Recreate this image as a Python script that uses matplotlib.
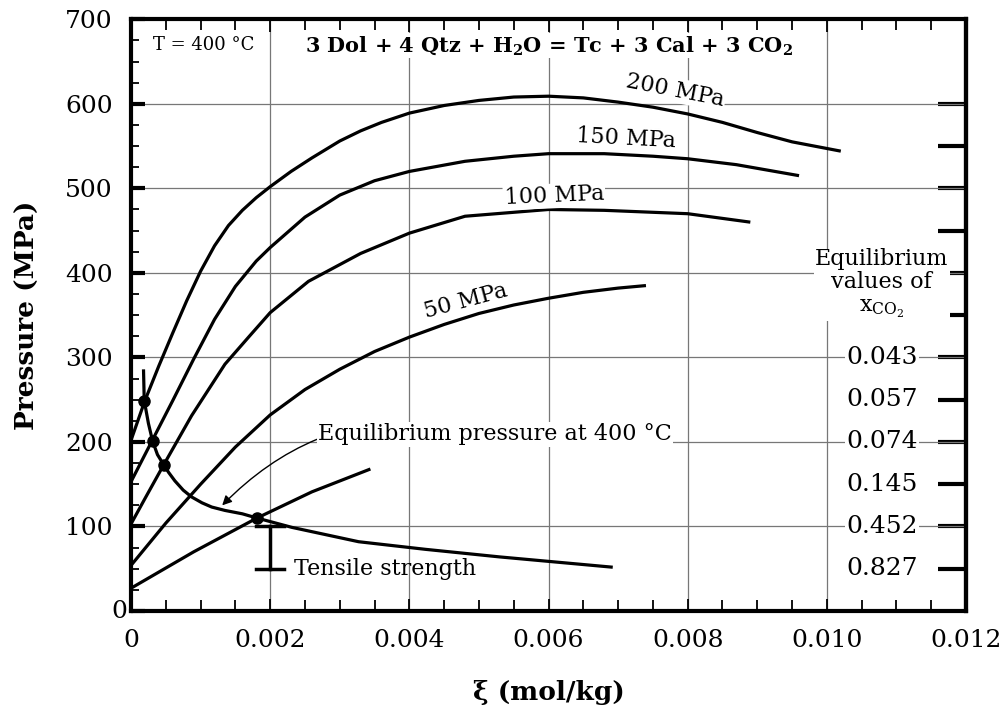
import matplotlib
matplotlib.use("Agg")
import matplotlib.pyplot as plt
from matplotlib.ticker import MultipleLocator, FixedLocator

plt.rcParams['font.family'] = ['DejaVu Serif']
plt.rcParams['mathtext.fontset'] = 'dejavuserif'

# reaction progress (mol/kg) vs pressure (MPa) for each starting pressure
xi_200 = [0, 0.0002, 0.0004, 0.0006, 0.0008, 0.001, 0.0012, 0.0014, 0.0016, 0.0018, 0.002, 0.0023, 0.0026,
          0.003, 0.0033, 0.0036, 0.004, 0.0045, 0.005, 0.0055, 0.006, 0.0065, 0.007, 0.0075, 0.008, 0.0085,
          0.009, 0.0095, 0.0102]
p_200 = [202, 249, 290, 329, 367, 402, 432, 456, 474, 489, 502, 520, 536,
         556, 568, 578, 589, 598, 604, 608, 609, 607, 602, 596, 588, 578,
         566, 555, 544]

xi_150 = [0, 0.0002, 0.0004, 0.0006, 0.0009, 0.0012, 0.0015, 0.0018, 0.002, 0.0025, 0.003, 0.0035, 0.004,
          0.0048, 0.0055, 0.006, 0.0068, 0.0075, 0.008, 0.0087, 0.0096]
p_150 = [153, 185, 217, 249, 298, 345, 384, 414, 430, 466, 492, 509, 520,
         532, 538, 541, 541, 538, 535, 528, 515]

xi_100 = [0, 0.0002, 0.00047, 0.00087, 0.00135, 0.0017, 0.002, 0.00255, 0.0033, 0.004, 0.0048, 0.006,
          0.0068, 0.008, 0.0089]
p_100 = [103, 133, 173, 231, 292, 325, 353, 390, 423, 447, 467, 475,
         474, 470, 460]

xi_50 = [0, 0.0005, 0.001, 0.0015, 0.002, 0.0025, 0.003, 0.0035, 0.004, 0.0045, 0.005, 0.0055, 0.006,
         0.0065, 0.007, 0.0074]
p_50 = [54, 104, 150, 194, 232, 262, 286, 307, 324, 339, 352, 362, 370,
        377, 382, 385]

xi_25 = [0, 0.0009, 0.00181, 0.0026, 0.00344]
p_25 = [27, 70, 110, 141, 168]

# equilibrium pressure at 400 C
xi_eq = [0.00018, 0.00019, 0.00025, 0.00031, 0.00038, 0.00047, 0.00054, 0.00063, 0.00075, 0.00087, 0.00102,
         0.00116, 0.00135, 0.0016, 0.00181, 0.00231, 0.00327, 0.00423, 0.0053, 0.0069]
p_eq = [284, 249, 222, 201, 185, 173, 164, 154, 143, 135, 128,
        123, 119, 115, 110, 99, 82, 73, 64, 52]

xi_dots = [0.00019, 0.00031, 0.00047, 0.00181]
p_dots = [249, 201, 173, 110]

xco2_p = [300, 250, 200, 150, 100, 50]
xco2_vals = ['0.043', '0.057', '0.074', '0.145', '0.452', '0.827']

x_ticks = [0, 0.002, 0.004, 0.006, 0.008, 0.010, 0.012]
x_labels = ['0', '0.002', '0.004', '0.006', '0.008', '0.010', '0.012']
y_ticks = [0, 100, 200, 300, 400, 500, 600, 700]
y_labels = ['', '100', '200', '300', '400', '500', '600', '700']

fig = plt.figure(figsize=(10.04, 7.11), dpi=100)
ax = fig.add_axes([0.1305, 0.1406, 0.8317, 0.8323])

lw = 2.3
for xs, ps in [(xi_200, p_200), (xi_150, p_150), (xi_100, p_100), (xi_50, p_50), (xi_25, p_25)]:
    ax.plot(xs, ps, color='black', lw=lw, solid_capstyle='butt', solid_joinstyle='round', zorder=3)
ax.plot(xi_eq, p_eq, color='black', lw=lw, solid_joinstyle='round', zorder=3)
ax.plot(xi_dots, p_dots, 'o', color='black', ms=8, zorder=4)

ax.set_xlim(0, 0.012)
ax.set_ylim(0, 700)

ax.xaxis.set_major_locator(FixedLocator(x_ticks))
ax.xaxis.set_minor_locator(MultipleLocator(0.0005))
ax.yaxis.set_major_locator(FixedLocator(y_ticks))
ax.yaxis.set_minor_locator(MultipleLocator(25))
ax.set_xticklabels(x_labels)
ax.set_yticklabels(y_labels)

ax.tick_params(axis='both', which='both', direction='in', top=True, right=False,
               labelsize=18, pad=13, color='black')
ax.tick_params(axis='x', which='major', length=9, width=1.3)
ax.tick_params(axis='x', which='minor', length=8, width=1.3)
ax.tick_params(axis='y', which='major', length=10, width=3)
ax.tick_params(axis='y', which='minor', length=6, width=1.3)
ax.annotate('0', xy=(0, 0), xytext=(-3, 0), textcoords='offset points',
            ha='right', va='center', fontsize=18)

for s in ax.spines.values():
    s.set_linewidth(3)

# thick right-hand ticks for the xCO2 scale
sec = ax.secondary_yaxis('right')
sec.set_yticks(list(range(50, 650, 50)))
sec.tick_params(direction='in', length=20, width=3, labelright=False)
sec.spines['right'].set_linewidth(3)

ax.grid(True, which='major', color='#777777', lw=0.9, zorder=1)
ax.set_axisbelow(True)

ax.set_xlabel('ξ (mol/kg)', fontsize=19, fontweight='bold', labelpad=20)
ax.set_ylabel('Pressure (MPa)', fontsize=19, fontweight='bold', labelpad=18)

box = dict(facecolor='white', edgecolor='none', pad=1)

ax.text(0.00032, 669, 'T = 400 °C', fontsize=13, ha='left', va='center', bbox=box, zorder=5)
ax.text(0.006, 669, r'3 Dol + 4 Qtz + H$_\mathbf{2}$O = Tc + 3 Cal + 3 CO$_\mathbf{2}$',
        fontsize=15, fontweight='bold', ha='center', va='center', bbox=box, zorder=5)

ax.text(0.00782, 616, '200 MPa', fontsize=16, rotation=-11, ha='center', va='center', bbox=box, zorder=5)
ax.text(0.00711, 559, '150 MPa', fontsize=16, rotation=-3, ha='center', va='center', bbox=box, zorder=5)
ax.text(0.00608, 491, '100 MPa', fontsize=16, rotation=2.5, ha='center', va='center', bbox=box, zorder=5)
ax.text(0.00481, 367, '50 MPa', fontsize=16, rotation=15, ha='center', va='center', bbox=box, zorder=5)

ax.text(0.01079, 430, 'Equilibrium\nvalues of\n' + r'$\mathrm{x}_{\mathrm{CO}_2}$', fontsize=16,
        ha='center', va='top', linespacing=1.1, bbox=box, zorder=5)
for p, v in zip(xco2_p, xco2_vals):
    ax.text(0.01079, p, v, fontsize=18, ha='center', va='center', bbox=box, zorder=5)

ax.annotate('Equilibrium pressure at 400 °C', xy=(0.00131, 125), xytext=(0.00269, 209),
            fontsize=16, ha='left', va='center', bbox=box, zorder=5,
            arrowprops=dict(arrowstyle='-|>', color='black', lw=1,
                            connectionstyle='arc3,rad=0.3', shrinkA=0, shrinkB=0,
                            mutation_scale=14))

# tensile strength range
ax.plot([0.002, 0.002], [50, 100], color='black', lw=2.5, zorder=3)
ax.plot([0.00179, 0.0022], [100, 100], color='black', lw=2.5, zorder=3)
ax.plot([0.00179, 0.0022], [50, 50], color='black', lw=2.5, zorder=3)
ax.text(0.00234, 50, 'Tensile strength', fontsize=16, ha='left', va='center')

fig.savefig('out.png', dpi=100)
